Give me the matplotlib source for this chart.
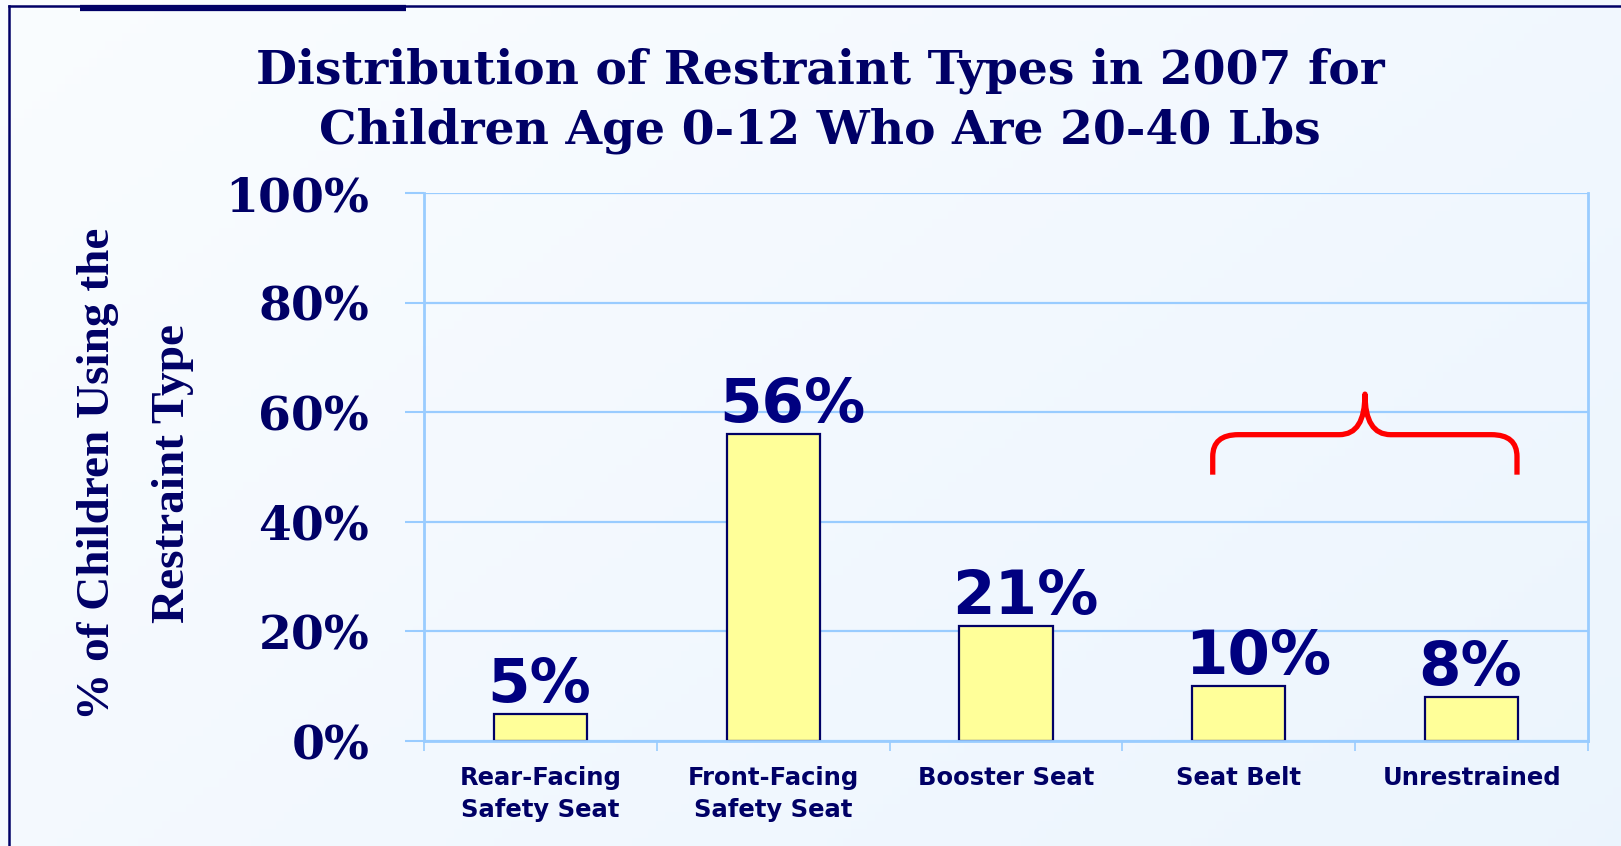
import matplotlib
matplotlib.use("Agg")
import matplotlib.pyplot as plt
import numpy as np
from matplotlib.path import Path
from matplotlib.patches import PathPatch
from matplotlib.lines import Line2D

# data
categories = ["Rear-Facing\nSafety Seat", "Front-Facing\nSafety Seat",
              "Booster Seat", "Seat Belt", "Unrestrained"]
shares = [5, 56, 21, 10, 8]
value_labels = ["5%", "56%", "21%", "10%", "8%"]
yticks = [0, 20, 40, 60, 80, 100]
ytick_labels = ["0%", "20%", "40%", "60%", "80%", "100%"]

title_lines = ["Distribution of Restraint Types in 2007 for",
               "Children Age 0-12 Who Are 20-40 Lbs"]
ylabel = "% of Children Using the\nRestraint Type"

navy = "#000066"
grid_blue = "#99CCFF"

fig = plt.figure(figsize=(16.21, 8.46), dpi=100)

# pale slide background with a soft gradient
bg = fig.add_axes([0, 0, 1, 1], zorder=-10)
gx, gy = np.meshgrid(np.linspace(0, 1, 200), np.linspace(0, 1, 100))
t = (gx * 0.6 + gy * 0.4)
c0 = np.array([0.98, 0.99, 1.0])
c1 = np.array([0.925, 0.96, 0.995])
img = c0[None, None, :] * (1 - t[..., None]) + c1[None, None, :] * t[..., None]
bg.imshow(img, aspect="auto", extent=[0, 1, 0, 1], origin="upper")
bg.set_xlim(0, 1)
bg.set_ylim(0, 1)
bg.axis("off")

# slide frame and the clipped heading underline
fig.add_artist(Line2D([9 / 1621, 9 / 1621], [0, 1 - 6 / 846], color=navy, lw=1.8))
fig.add_artist(Line2D([9 / 1621, 1], [1 - 6 / 846, 1 - 6 / 846], color=navy, lw=1.8))
fig.add_artist(Line2D([80 / 1621, 406 / 1621], [1 - 8 / 846, 1 - 8 / 846],
                      color=navy, lw=4.5, solid_capstyle="butt"))

ax = fig.add_axes([424 / 1621, 1 - 741 / 846, 1164 / 1621, 548 / 846])
ax.set_facecolor("none")

x = np.arange(len(categories))
bars = ax.bar(x, shares, width=0.4, color="#FFFF99", edgecolor=navy,
              linewidth=1.6, zorder=2)

ax.set_xlim(-0.5, len(categories) - 0.5)
ax.set_ylim(0, 100)

ax.set_yticks(yticks)
ax.set_yticklabels(ytick_labels, fontfamily="DejaVu Serif", fontweight="bold",
                   fontsize=34, color=navy)
ax.tick_params(axis="y", length=13.5, width=1.5, color=grid_blue, pad=26)
ax.yaxis.grid(True, color=grid_blue, lw=1.6, zorder=0)

ax.set_xticks(np.arange(len(categories) + 1) - 0.5)
ax.set_xticklabels([])
ax.tick_params(axis="x", which="major", length=7, width=1.2, color=grid_blue)
ax.set_xticks(x, minor=True)
ax.set_xticklabels(categories, minor=True, fontfamily="DejaVu Sans",
                   fontweight="bold", fontsize=17.5, color=navy,
                   linespacing=1.4)
ax.tick_params(axis="x", which="minor", length=0, pad=18)

for side in ["left", "right", "top", "bottom"]:
    ax.spines[side].set_color(grid_blue)
    ax.spines[side].set_linewidth(2)
    ax.spines[side].set_zorder(3)
ax.spines["top"].set_visible(False)

# value labels above bars
for b, lab in zip(bars, value_labels):
    ax.annotate(lab, (b.get_x(), b.get_height()), xytext=(-5, 8.5),
                textcoords="offset points", ha="left", va="baseline",
                fontfamily="DejaVu Sans", fontweight="bold", fontsize=44,
                color="#000080", zorder=4)

for line, base in zip(title_lines, [83, 143]):
    fig.text(0.506, 1 - base / 846, line, ha="center", va="baseline",
             fontfamily="DejaVu Serif", fontweight="bold", fontsize=34,
             color=navy)
fig.text(0.0835, 0.44, ylabel, ha="center", va="center", rotation=90,
         fontfamily="Liberation Serif", fontweight="bold", fontsize=34,
         color=navy, linespacing=2.05, multialignment="center")

# red brace grouping the seat belt and unrestrained bars
bx0, bx1, bxm = 2.888, 4.195, 3.542
by0, byh, byp = 48.6, 55.9, 63.3
rx, ry = 0.11, 4.0
verts = [(bx0, by0), (bx0, byh - ry), (bx0, byh), (bx0 + rx, byh),
         (bxm - rx, byh), (bxm, byh), (bxm, byp),
         (bxm, byh), (bxm + rx, byh),
         (bx1 - rx, byh), (bx1, byh), (bx1, byh - ry), (bx1, by0)]
codes = [Path.MOVETO, Path.LINETO, Path.CURVE3, Path.CURVE3,
         Path.LINETO, Path.CURVE3, Path.CURVE3,
         Path.CURVE3, Path.CURVE3,
         Path.LINETO, Path.CURVE3, Path.CURVE3, Path.LINETO]
ax.add_patch(PathPatch(Path(verts, codes), facecolor="none", edgecolor="#FF0000",
                       lw=3.8, capstyle="butt", joinstyle="round", zorder=5,
                       clip_on=False))

fig.savefig("out.png", dpi=100)
